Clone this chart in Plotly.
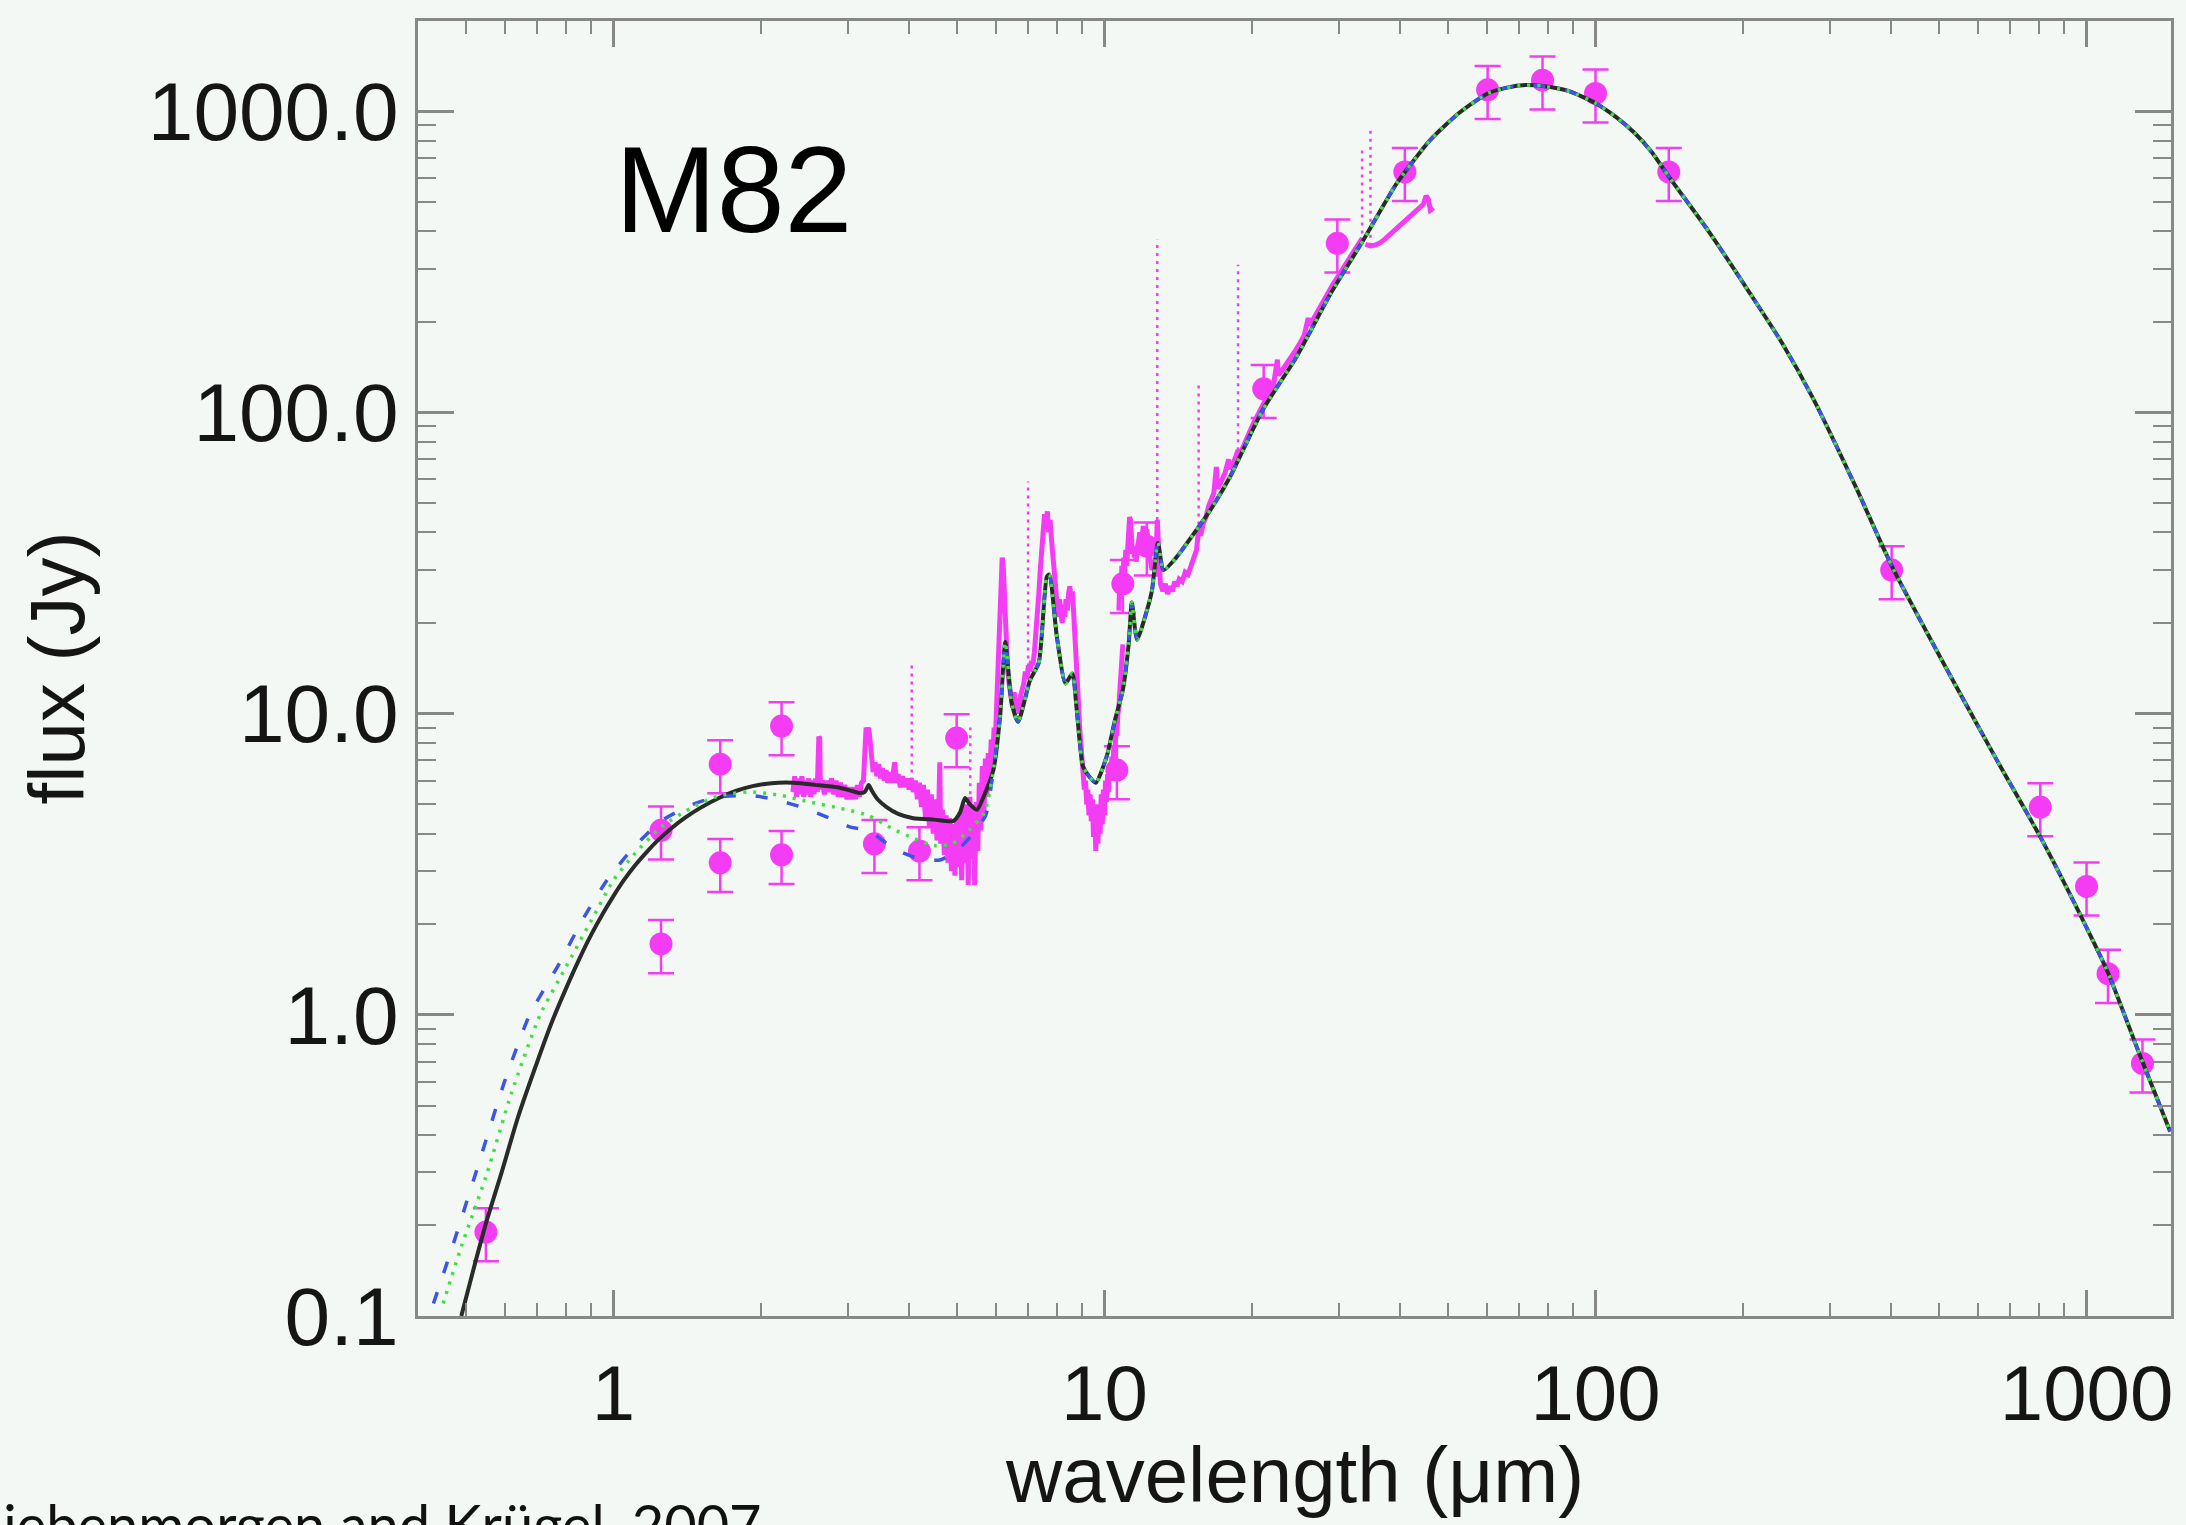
import plotly.graph_objects as go

# ---------------------------------------------------------------------------
# M82 spectral energy distribution: photometry, spectra and dust models
# ---------------------------------------------------------------------------

# broad-band photometry (wavelength in micron, flux in Jy)
phot_wave = [0.55, 1.25, 1.25, 1.65, 1.65, 2.2, 2.2, 3.4, 4.2, 5.0,
             10.6, 10.9, 12.2, 21.1, 29.8, 40.9, 60.3, 78.0, 100.0, 141.0,
             401.0, 805.0, 1000.0, 1106.0, 1300.0]
phot_flux = [0.19, 4.1, 1.72, 6.8, 3.2, 9.1, 3.4, 3.7, 3.5, 8.3,
             6.5, 27.0, 36.0, 120.0, 365.0, 630.0, 1180.0, 1270.0, 1148.0, 630.0,
             30.0, 4.9, 2.67, 1.37, 0.69]
phot_err_pct = 20

# near-infrared spectrum (micron, Jy)
nir_spec = [
    (2.32, 5.5), (2.34, 6.2), (2.36, 5.3), (2.38, 6.1), (2.40, 5.4), (2.42, 6.2),
    (2.44, 5.3), (2.46, 6.0), (2.48, 5.4), (2.50, 6.1), (2.52, 5.3), (2.54, 6.0),
    (2.56, 5.4), (2.58, 6.1), (2.60, 5.5), (2.62, 8.4), (2.63, 8.3), (2.64, 5.6),
    (2.66, 6.0), (2.69, 5.4), (2.72, 6.0), (2.75, 5.5), (2.78, 6.1), (2.81, 5.4),
    (2.84, 6.0), (2.87, 5.3), (2.90, 5.9), (2.93, 5.3), (2.96, 5.8), (2.99, 5.2),
    (3.02, 5.7), (3.05, 5.2), (3.08, 5.7), (3.11, 5.2), (3.14, 5.8), (3.17, 5.3),
    (3.20, 5.9), (3.23, 6.0), (3.25, 8.8), (3.27, 9.0), (3.29, 8.6), (3.31, 9.0),
    (3.33, 8.2), (3.35, 7.0), (3.38, 6.4), (3.41, 6.9), (3.44, 6.2), (3.47, 6.8),
    (3.50, 6.1), (3.53, 6.6), (3.56, 6.0), (3.59, 6.5), (3.62, 5.9), (3.65, 6.4),
    (3.68, 5.9), (3.71, 6.3), (3.74, 6.9), (3.77, 5.9), (3.80, 6.3), (3.84, 5.7),
    (3.88, 6.2), (3.92, 5.7), (3.96, 6.1), (4.00, 5.6), (4.04, 6.1), (4.08, 5.5),
    (4.12, 6.0), (4.16, 5.2), (4.20, 5.9), (4.24, 4.9), (4.28, 5.8), (4.32, 4.5),
    (4.36, 5.6), (4.40, 4.2), (4.44, 5.4), (4.48, 4.0), (4.52, 5.2), (4.56, 3.8),
    (4.60, 5.0), (4.62, 6.9), (4.64, 3.7), (4.68, 4.8), (4.72, 3.4), (4.76, 4.6),
    (4.80, 3.2), (4.84, 4.5), (4.88, 3.0), (4.92, 4.3), (4.96, 2.9), (5.00, 4.5),
    (5.04, 3.1), (5.08, 4.7), (5.12, 2.8), (5.16, 4.9), (5.20, 3.2), (5.24, 5.0),
    (5.28, 2.7), (5.32, 5.3), (5.36, 3.3), (5.40, 5.0), (5.44, 2.7), (5.48, 5.1),
    (5.52, 3.5), (5.56, 5.9), (5.60, 4.1), (5.64, 6.7), (5.68, 4.5), (5.72, 7.1),
    (5.76, 5.3), (5.80, 7.4),
]

# mid-infrared spectrum, PAH bands and silicate trough (micron, Jy)
mir_spec = [
    (5.84, 6.0), (5.88, 8.2), (5.92, 7.0), (5.96, 9.0), (6.00, 8.5), (6.04, 11.0),
    (6.08, 14.0), (6.12, 20.0), (6.16, 28.0), (6.19, 33.0), (6.22, 31.0), (6.25, 24.0),
    (6.30, 17.0), (6.35, 14.0), (6.40, 12.5), (6.45, 11.5), (6.50, 10.5), (6.55, 11.8),
    (6.60, 10.2), (6.65, 11.2), (6.70, 10.0), (6.75, 11.5), (6.80, 12.0), (6.85, 12.6),
    (6.90, 13.8), (6.95, 13.0), (7.00, 14.5), (7.05, 13.8), (7.10, 15.0), (7.15, 14.5),
    (7.20, 16.0), (7.25, 18.0), (7.30, 21.0), (7.35, 25.0), (7.40, 30.0), (7.45, 36.0),
    (7.50, 41.0), (7.55, 46.0), (7.60, 43.0), (7.65, 47.0), (7.70, 40.0), (7.75, 44.0),
    (7.80, 38.0), (7.85, 33.0), (7.90, 28.0), (7.95, 25.0), (8.00, 23.0), (8.05, 21.0),
    (8.10, 24.0), (8.15, 22.0), (8.20, 20.0), (8.25, 23.0), (8.30, 21.0), (8.35, 24.0),
    (8.40, 22.0), (8.45, 25.0), (8.50, 26.5), (8.55, 24.0), (8.60, 25.5), (8.65, 22.0),
    (8.70, 19.0), (8.75, 16.0), (8.80, 13.0), (8.85, 11.0), (8.90, 9.0), (8.95, 8.0),
    (9.00, 7.0), (9.05, 6.2), (9.10, 5.6), (9.15, 6.0), (9.20, 5.0), (9.25, 5.6),
    (9.30, 4.6), (9.35, 5.4), (9.40, 4.4), (9.45, 5.2), (9.50, 3.9), (9.55, 5.0),
    (9.60, 3.5), (9.65, 4.8), (9.70, 3.7), (9.75, 5.0), (9.80, 4.0), (9.85, 5.4),
    (9.90, 4.3), (9.95, 5.6), (10.00, 4.6), (10.05, 6.0), (10.10, 5.1), (10.15, 6.3),
    (10.20, 5.5), (10.25, 6.8), (10.30, 6.0), (10.35, 7.2), (10.40, 6.6), (10.45, 7.8),
    (10.50, 7.4), (10.55, 8.6), (10.60, 8.6), (10.65, 10.0), (10.70, 10.5), (10.75, 12.0),
    (10.80, 13.5), (10.85, 15.0), (10.90, 17.0),
]

# long-slit mid-infrared spectrum up to 33 micron (micron, Jy)
sws_spec = [
    (10.70, 22.0), (10.75, 28.0), (10.80, 24.0), (10.85, 31.0), (10.90, 26.0), (10.95, 33.0),
    (11.00, 29.0), (11.05, 35.0), (11.10, 31.0), (11.15, 38.0), (11.20, 42.0), (11.25, 45.0),
    (11.30, 44.0), (11.35, 38.0), (11.40, 34.0), (11.45, 36.0), (11.50, 33.0), (11.55, 35.0),
    (11.60, 32.0), (11.70, 36.0), (11.80, 40.0), (11.90, 37.0), (12.00, 42.0), (12.10, 38.0),
    (12.20, 41.0), (12.30, 35.0), (12.40, 33.0), (12.50, 30.0), (12.60, 32.0), (12.70, 29.0),
    (12.81, 44.0), (12.90, 30.0), (13.00, 27.0), (13.15, 25.5), (13.30, 27.0), (13.45, 25.0),
    (13.60, 26.5), (13.75, 25.5), (13.90, 27.5), (14.05, 26.5), (14.20, 28.0), (14.40, 27.5),
    (14.60, 29.5), (14.80, 29.0), (15.00, 31.0), (15.20, 33.0), (15.40, 35.0), (15.55, 41.0),
    (15.70, 39.0), (15.90, 43.0), (16.10, 45.0), (16.30, 49.0), (16.50, 51.0), (16.70, 54.0),
    (16.90, 66.0), (17.00, 56.0), (17.20, 58.0), (17.40, 61.0), (17.60, 63.0), (17.90, 70.0),
    (18.00, 65.0), (18.30, 68.0), (18.71, 75.0), (18.90, 73.0), (19.20, 78.0), (19.50, 83.0),
    (19.80, 87.0), (20.10, 92.0), (20.50, 98.0), (20.90, 104.0), (21.30, 110.0), (21.70, 117.0),
    (22.10, 124.0), (22.50, 150.0), (22.60, 133.0), (23.00, 138.0), (23.50, 145.0), (24.00, 154.0),
    (24.50, 161.0), (25.00, 170.0), (25.50, 180.0), (26.00, 206.0), (26.20, 195.0), (26.80, 208.0),
    (27.40, 222.0), (28.00, 237.0), (28.60, 254.0), (29.20, 267.0), (29.80, 281.0), (30.50, 298.0),
    (31.20, 317.0), (32.00, 338.0), (32.80, 360.0), (33.50, 380.0),
]

# far-infrared spectrum segment (micron, Jy)
lws_spec = [
    (34.0, 362.0), (34.8, 358.0), (35.6, 360.0), (36.4, 366.0), (37.2, 376.0), (38.0, 388.0),
    (38.8, 400.0), (39.6, 414.0), (40.6, 428.0), (41.6, 442.0), (42.6, 458.0), (43.6, 474.0),
    (44.6, 492.0), (45.2, 525.0), (45.7, 510.0), (46.1, 470.0), (46.8, 478.0),
]

# fine-structure / recombination lines: wavelength, continuum level, peak (Jy)
line_wave = [4.05, 5.33, 6.99, 12.81, 15.55, 18.71, 33.48, 34.81]
line_base = [6.0, 4.5, 13.5, 44.0, 40.0, 75.0, 370.0, 358.0]
line_peak = [14.8, 9.0, 59.0, 375.0, 124.0, 310.0, 745.0, 880.0]

# best-fit model (solid)
model_wave = [0.49, 0.52, 0.55, 0.592, 0.64, 0.70, 0.75, 0.80, 0.85, 0.90,
              0.95, 1.00, 1.05, 1.10, 1.17, 1.24, 1.32, 1.40, 1.50, 1.64,
              1.78, 1.92, 2.10, 2.32, 2.60, 2.86, 3.05, 3.18, 3.25, 3.31,
              3.36, 3.45, 3.60, 3.80, 4.08, 4.50, 4.92, 5.08, 5.20, 5.32,
              5.50, 5.70, 5.94, 6.13, 6.28, 6.47, 6.67, 7.05, 7.35, 7.63,
              7.72, 8.00, 8.33, 8.60, 8.78, 9.04, 9.30, 9.60, 10.1, 10.5,
              10.9, 11.2, 11.37, 11.65, 12.2, 12.5, 12.85, 13.2, 14.0, 15.4,
              16.5, 18.0, 21.0, 24.6, 28.9, 33.7, 39.4, 46.1, 52.8, 60.3,
              66.0, 72.0, 78.0, 88.0, 100.0, 110.0, 120.0, 130.0, 141.0, 170.0,
              206.0, 240.0, 277.0, 340.0, 401.0, 533.0, 657.0, 805.0, 1000.0, 1106.0,
              1282.0, 1480.0]
model_flux = [0.10, 0.145, 0.203, 0.30, 0.46, 0.70, 0.95, 1.22, 1.52, 1.84,
              2.16, 2.48, 2.80, 3.10, 3.48, 3.84, 4.20, 4.52, 4.86, 5.25,
              5.55, 5.75, 5.88, 5.90, 5.80, 5.70, 5.55, 5.45, 5.50, 5.80,
              5.55, 5.20, 4.90, 4.65, 4.50, 4.45, 4.40, 4.70, 5.25, 5.00,
              4.80, 5.40, 6.50, 9.80, 17.3, 10.9, 9.40, 12.9, 14.8, 28.5,
              29.0, 18.0, 12.6, 13.6, 10.3, 6.70, 6.20, 5.90, 7.20, 9.50,
              12.0, 17.0, 23.4, 17.6, 22.0, 25.8, 36.9, 30.0, 33.0, 40.8,
              48.0, 61.0, 102.0, 153.0, 249.0, 375.0, 578.0, 805.0, 990.0, 1148.0,
              1200.0, 1224.0, 1215.0, 1170.0, 1066.0, 960.0, 850.0, 735.0, 608.0, 400.0,
              250.0, 170.0, 112.0, 56.0, 31.0, 13.0, 7.0, 3.9, 1.95, 1.38,
              0.74, 0.41]

# alternative models, differing only shortward of 6 micron
alt1_wave_short = [0.43, 0.47, 0.527, 0.598, 0.675, 0.77, 0.87, 0.97, 1.10, 1.25,
                   1.45, 1.61, 1.90, 2.12, 2.46, 2.80, 3.04, 3.30, 3.74, 4.20,
                   4.62, 5.00, 5.40, 5.73]
alt1_flux_short = [0.11, 0.17, 0.306, 0.59, 1.0, 1.45, 2.1, 2.8, 3.6, 4.4,
                   5.0, 5.27, 5.35, 5.2, 4.85, 4.45, 4.2, 4.1, 3.55, 3.3,
                   3.27, 3.5, 4.0, 4.6]
alt2_wave_short = [0.45, 0.49, 0.55, 0.62, 0.709, 0.80, 0.90, 1.00, 1.10, 1.25,
                   1.45, 1.65, 1.90, 2.20, 2.50, 2.90, 3.30, 3.70, 4.10, 4.50,
                   4.90, 5.30, 5.70]
alt2_flux_short = [0.11, 0.17, 0.29, 0.55, 1.0, 1.44, 2.05, 2.8, 3.4, 4.2,
                   4.9, 5.35, 5.5, 5.35, 5.1, 4.85, 4.6, 4.15, 3.85, 3.65,
                   3.7, 4.1, 4.7]

x_ticks = [1, 10, 100, 1000]
x_ticktext = ["1", "10", "100", "1000"]
y_ticks = [0.1, 1, 10, 100, 1000]
y_ticktext = ["0.1", "1.0", "10.0", "100.0", "1000.0"]

# ---------------------------------------------------------------------------
MAGENTA = "#f53cf5"
BG = "#f3f8f4"
AXIS = "#888888"
TEXT = "#151515"
FONT = "Liberation Sans, Arial, Helvetica, sans-serif"

W, H = 2186, 1525
L, R, T, B = 418, 15, 21, 209
XR = [-0.398, 3.172]
YR = [-1.0, 3.3005]

x_minor = [m * d for d in (0.1, 1, 10, 100) for m in range(2, 10)] + [2000]
y_minor = [m * d for d in (0.1, 1, 10, 100, 1000) for m in range(2, 10)]


def unzip(pairs):
    return [p[0] for p in pairs], [p[1] for p in pairs]


fig = go.Figure()

# photometry
fig.add_trace(go.Scatter(
    x=phot_wave, y=phot_flux, mode="markers",
    marker=dict(size=23, color=MAGENTA, line=dict(width=0)),
    error_y=dict(type="percent", value=phot_err_pct, color=MAGENTA,
                 thickness=2.5, width=13),
    showlegend=False, hoverinfo="x+y"))

# spectra
for seg in (nir_spec, mir_spec, sws_spec, lws_spec):
    sx, sy = unzip(seg)
    fig.add_trace(go.Scatter(x=sx, y=sy, mode="lines",
                             line=dict(color=MAGENTA, width=5),
                             showlegend=False))

# emission lines drawn as dotted spikes
lx, ly = [], []
for w, b0, p in zip(line_wave, line_base, line_peak):
    lx += [w, w, None]
    ly += [b0, p, None]
fig.add_trace(go.Scatter(x=lx, y=ly, mode="lines",
                         line=dict(color=MAGENTA, width=2.5, dash="3px,5px"),
                         showlegend=False, hoverinfo="skip"))

# models
tail = next(i for i, w in enumerate(model_wave) if w >= 5.94)
fig.add_trace(go.Scatter(x=model_wave, y=model_flux, mode="lines",
                         line=dict(color="#2a2a2a", width=4, shape="spline",
                                   smoothing=0.6),
                         showlegend=False))
fig.add_trace(go.Scatter(x=alt1_wave_short + model_wave[tail:],
                         y=alt1_flux_short + model_flux[tail:], mode="lines",
                         line=dict(color="#3a56e2", width=3.5, dash="12px,20px",
                                   shape="spline", smoothing=0.6),
                         showlegend=False))
fig.add_trace(go.Scatter(x=alt2_wave_short + model_wave[tail:],
                         y=alt2_flux_short + model_flux[tail:], mode="lines",
                         line=dict(color="#45dd45", width=3.5, dash="3px,7px",
                                   shape="spline", smoothing=0.6),
                         showlegend=False))

# anchor for the mirrored (top / right) axes
fig.add_trace(go.Scatter(x=[None], y=[None], xaxis="x2", yaxis="y2",
                         showlegend=False, hoverinfo="skip"))

common = dict(type="log", showgrid=False, zeroline=False, showline=True,
              linecolor=AXIS, linewidth=3, ticks="inside", tickcolor=AXIS)

fig.update_layout(
    width=W, height=H,
    margin=dict(l=L, r=R, t=T, b=B, pad=0),
    paper_bgcolor=BG, plot_bgcolor=BG,
    showlegend=False,
    xaxis=dict(**common, range=XR, tickvals=x_ticks, ticktext=x_ticktext,
               ticklen=26, tickwidth=2.5, ticklabelstandoff=7,
               tickfont=dict(family=FONT, size=78, color=TEXT),
               minor=dict(ticks="inside", ticklen=13, tickwidth=2,
                          tickcolor=AXIS, tickvals=x_minor)),
    yaxis=dict(**common, range=YR, tickvals=y_ticks, ticktext=y_ticktext,
               ticklen=36, tickwidth=2.5, ticklabelstandoff=0,
               tickfont=dict(family=FONT, size=82, color=TEXT),
               minor=dict(ticks="inside", ticklen=18, tickwidth=2,
                          tickcolor=AXIS, tickvals=y_minor)),
    xaxis2=dict(**common, range=XR, overlaying="x", side="top", anchor="y2",
                tickvals=x_ticks, showticklabels=False, ticklen=26, tickwidth=2.5,
                minor=dict(ticks="inside", ticklen=13, tickwidth=2,
                           tickcolor=AXIS, tickvals=x_minor)),
    yaxis2=dict(**common, range=YR, overlaying="y", side="right", anchor="x2",
                tickvals=y_ticks, showticklabels=False, ticklen=36, tickwidth=2.5,
                minor=dict(ticks="inside", ticklen=18, tickwidth=2,
                           tickcolor=AXIS, tickvals=y_minor)),
)

pw, ph = W - L - R, H - T - B


def px(xpix):
    return (xpix - L) / pw


def py(ypix):
    return (H - B - ypix) / ph


fig.add_annotation(text="M82", x=px(613), y=py(190), xref="paper", yref="paper",
                   xanchor="left", yanchor="middle", showarrow=False,
                   font=dict(family=FONT, size=122, color="#000000"))
fig.add_annotation(text="wavelength (μm)", x=0.5, y=py(1475), xref="paper",
                   yref="paper", xanchor="center", yanchor="middle", showarrow=False,
                   font=dict(family=FONT, size=78, color=TEXT))
fig.add_annotation(text="flux (Jy)", x=px(56), y=0.5, xref="paper", yref="paper",
                   xanchor="center", yanchor="middle", textangle=-90, showarrow=False,
                   font=dict(family=FONT, size=78, color=TEXT))
fig.add_annotation(text="Siebenmorgen and Krügel, 2007", x=px(764), y=py(1488),
                   xref="paper", yref="paper", xanchor="right", yanchor="top",
                   showarrow=False,
                   font=dict(family="Lato, Noto Sans, sans-serif", size=56,
                             color="#111111"))

fig.write_html("out.html")
